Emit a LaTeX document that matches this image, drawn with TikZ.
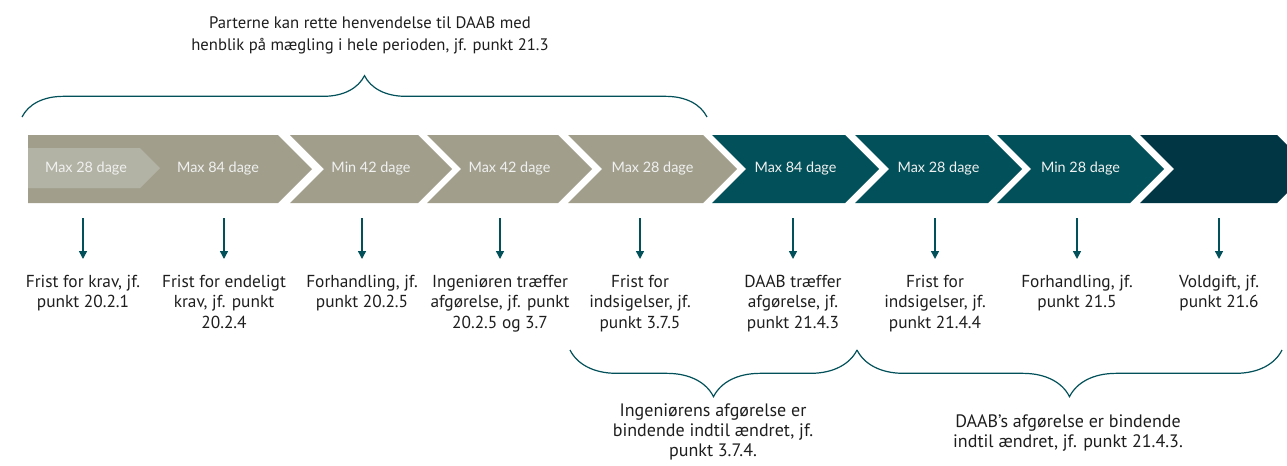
\documentclass[tikz,border=0pt]{standalone}
\usepackage{fontspec}
\setmainfont{PT Sans}
\newfontfamily\chevfont{Lato}
\usetikzlibrary{arrows.meta, decorations.pathreplacing}
\definecolor{greige}{RGB}{161,159,140}
\definecolor{greigelt}{RGB}{179,179,165}
\definecolor{petrol}{RGB}{2,80,89}
\definecolor{petroldk}{RGB}{1,55,69}
\definecolor{inkcol}{RGB}{30,30,30}
\tikzset{
  phase/.style={text=white!94!black, font=\chevfont\fontsize{10.8}{12}\selectfont, inner sep=0pt},
  lbl/.style={anchor=north, align=center, text=inkcol, inner sep=0pt,
              font=\fontsize{13}{15.2}\selectfont},
  note/.style={align=center, text=inkcol, inner sep=0pt, font=\fontsize{12.5}{16.5}\selectfont},
  flow/.style={-{Triangle[length=6pt, width=6pt]}, petrol, line width=1.1pt, shorten >=12pt},
  span/.style={petrol, line width=0.9pt, decorate,
               decoration={brace, amplitude=#1, aspect=0.5}},
}

\begin{document}
\begin{tikzpicture}[x=0.75pt, y=-0.75pt]
  \useasboundingbox (0,0) rectangle (1287,465);

  % first phase, with the shorter claim period inside it
  \fill[greige] (28,135) -- (278,135) -- (312,169) -- (278,203) -- (28,203) -- cycle;
  \fill[greigelt] (28,148) -- (140,148) -- (160,168) -- (140,188) -- (28,188) -- cycle;
  \node[phase] (p0) at (86,169) {Max 28 dage};
  \node[phase] (p1) at (218,169) {Max 84 dage};

  \foreach \xa/\xb/\col/\txt [count=\i from 2] in {290/418/greige/Min 42 dage,
      427/558/greige/Max 42 dage, 568/703/greige/Max 28 dage, 712/845/petrol/Max 84 dage,
      855/988/petrol/Max 28 dage, 997/1130/petrol/Min 28 dage} {
    \fill[\col] (\xa,135) -- (\xb,135) -- ({\xb+34},169) -- (\xb,203) -- (\xa,203)
      -- ({\xa+34},169) -- cycle;
    \node[phase] (p\i) at ({(\xa+\xb+34)/2},169) {\txt};
  }
  % arbitration
  \fill[petroldk] (1140,135) -- (1277,135) -- (1311,169) -- (1277,203) -- (1140,203)
    -- (1174,169) -- cycle;

  % milestones
  \foreach \x/\txt [count=\i] in {83/{Frist for krav, jf.\\punkt 20.2.1},
      224/{Frist for endeligt\\krav, jf. punkt\\20.2.4},
      362/{Forhandling, jf.\\punkt 20.2.5},
      500/{Ingeniøren træffer\\afgørelse, jf. punkt\\20.2.5 og 3.7},
      640/{Frist for\\indsigelser, jf.\\punkt 3.7.5},
      793/{DAAB træffer\\afgørelse, jf.\\punkt 21.4.3},
      935/{Frist for\\indsigelser, jf.\\punkt 21.4.4},
      1077/{Forhandling, jf.\\punkt 21.5},
      1219/{Voldgift, jf.\\punkt 21.6}} {
    \coordinate (a\i) at (\x,218);
    \node[lbl] (l\i) at (\x,275) {\txt};
    \draw[flow] (a\i) -- (l\i.north);
  }

  % braces
  \coordinate (t1) at (22,117);
  \coordinate (t2) at (707,117);
  \draw[span=31pt] (t1) -- (t2);
  \node[note] (mediation) at (370,35)
    {Parterne kan rette henvendelse til DAAB med\\henblik på mægling i hele perioden, jf. punkt 21.3};

  \coordinate (e1) at (570,350);
  \coordinate (e2) at (857,350);
  \coordinate (e3) at (1282,350);
  \draw[span=35pt] (e2) -- (e1);
  \draw[span=35pt] (e3) -- (e2);
  \node[note, font=\fontsize{13.5}{15}\selectfont] (eng) at (713,432)
    {Ingeniørens afgørelse er\\bindende indtil ændret, jf.\\punkt 3.7.4.};
  \node[note, font=\fontsize{13.5}{15.4}\selectfont] (daab) at (1068,433)
    {DAAB's afgørelse er bindende\\indtil ændret, jf. punkt 21.4.3.};
\end{tikzpicture}
\end{document}
